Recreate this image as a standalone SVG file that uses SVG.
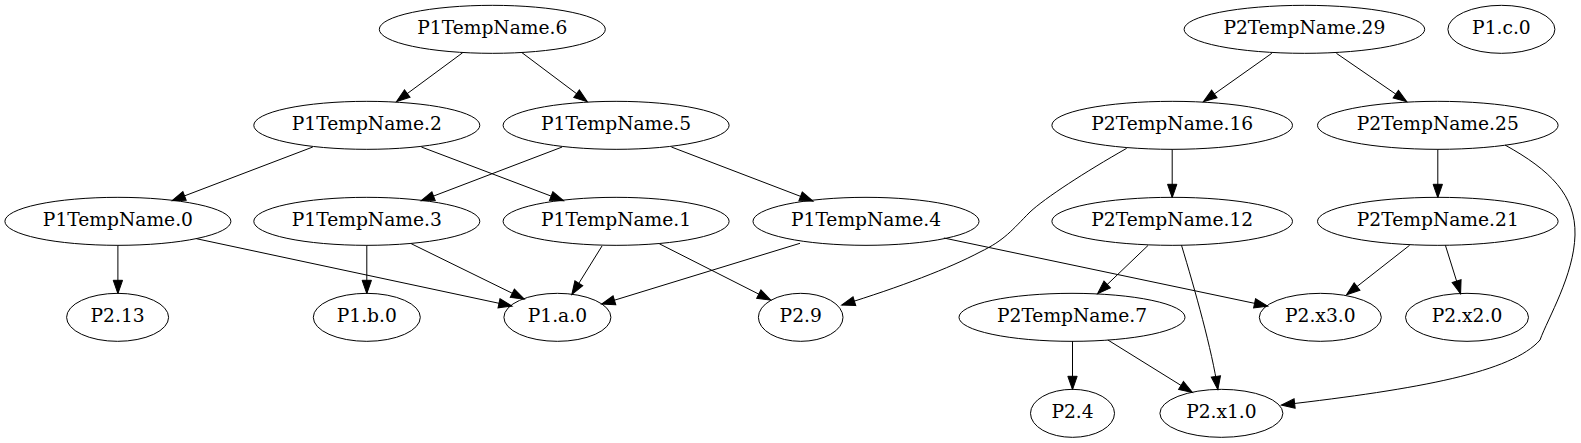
<svg xmlns="http://www.w3.org/2000/svg" width="1581" height="443" viewBox="0 0 1581 443">
<style>
.n ellipse{fill:none;stroke:#000;stroke-width:1}
.n text{font-family:"DejaVu Serif",serif;font-size:18.67px;text-anchor:middle;fill:#000}
#edges path{fill:none;stroke:#000;stroke-width:1;marker-end:url(#arr)}
</style>
<defs>
<marker id="arr" markerUnits="userSpaceOnUse" markerWidth="16" markerHeight="12" refX="13" refY="4.67" orient="auto" overflow="visible">
<path d="M0,0 L13.33,4.67 L0,9.33 Z" fill="#000" stroke="#000" stroke-width="1"/>
</marker>
</defs>
<rect width="1581" height="443" fill="#fff"/>
<g id="edges">
<path d="M462.7,52.7 L396.8,101.3"/>
<path d="M522,52.7 L587,101.5"/>
<path d="M312.8,147 L172.4,200.5"/>
<path d="M421.4,147 L563.3,200.7"/>
<path d="M562.2,147 L421.4,200.7"/>
<path d="M671.4,147 L812.7,201"/>
<path d="M117.9,245.3 L117.9,293.3"/>
<path d="M196.4,238.7 L511.7,306"/>
<path d="M366.8,245.3 L366.8,293.3"/>
<path d="M411.2,243.7 L524,299"/>
<path d="M602,246 L572,294.3"/>
<path d="M659.2,243.7 L770.4,300"/>
<path d="M800,243.3 L602,304"/>
<path d="M943.9,238 L1267.3,306"/>
<path d="M1271.8,53.3 L1203.7,101.5"/>
<path d="M1336.4,53.3 L1406.5,101.5"/>
<path d="M1172.2,149.3 L1172.2,197.3"/>
<path d="M1126.7,148.3 C1085,172 1045,198 1030,212 C1012,230 1005,240 980,252 C950,268 900,287 842,305"/>
<path d="M1437.8,149.3 L1437.8,197.3"/>
<path d="M1505,145 C1550,170 1576,195 1575,235 C1574,275 1548,318 1540,340 C1512,372 1420,389 1281.7,405"/>
<path d="M1148.2,245.3 L1097.8,293.5"/>
<path d="M1181.5,245.3 C1195,290 1212,350 1217.8,389.3"/>
<path d="M1409.6,245.3 L1346.8,294.5"/>
<path d="M1445.4,245.3 L1460.5,293.5"/>
<path d="M1072.5,341.3 L1072.5,389.3"/>
<path d="M1107.9,340 L1192.1,392.3"/>
</g>
<g id="P1TempName.6" class="n"><ellipse cx="492.3" cy="29.33" rx="113" ry="24"/><text x="492.3" y="34.4">P1TempName.6</text></g>
<g id="P1TempName.2" class="n"><ellipse cx="366.8" cy="125.33" rx="113" ry="24"/><text x="366.8" y="130.4">P1TempName.2</text></g>
<g id="P1TempName.5" class="n"><ellipse cx="616.1" cy="125.33" rx="113" ry="24"/><text x="616.1" y="130.4">P1TempName.5</text></g>
<g id="P1TempName.0" class="n"><ellipse cx="117.9" cy="221.33" rx="113" ry="24"/><text x="117.9" y="226.4">P1TempName.0</text></g>
<g id="P1TempName.3" class="n"><ellipse cx="366.8" cy="221.33" rx="113" ry="24"/><text x="366.8" y="226.4">P1TempName.3</text></g>
<g id="P1TempName.1" class="n"><ellipse cx="616.1" cy="221.33" rx="113" ry="24"/><text x="616.1" y="226.4">P1TempName.1</text></g>
<g id="P1TempName.4" class="n"><ellipse cx="866" cy="221.33" rx="113" ry="24"/><text x="866" y="226.4">P1TempName.4</text></g>
<g id="P2.13" class="n"><ellipse cx="117.6" cy="317.33" rx="51" ry="24"/><text x="117.6" y="322.4">P2.13</text></g>
<g id="P1.b.0" class="n"><ellipse cx="366.8" cy="317.33" rx="53.5" ry="24"/><text x="366.8" y="322.4">P1.b.0</text></g>
<g id="P1.a.0" class="n"><ellipse cx="557.4" cy="317.33" rx="53.5" ry="24"/><text x="557.4" y="322.4">P1.a.0</text></g>
<g id="P2.9" class="n"><ellipse cx="800.7" cy="317.33" rx="42.3" ry="24"/><text x="800.7" y="322.4">P2.9</text></g>
<g id="P2TempName.29" class="n"><ellipse cx="1304.4" cy="29.33" rx="120.3" ry="24"/><text x="1304.4" y="34.4">P2TempName.29</text></g>
<g id="P1.c.0" class="n"><ellipse cx="1501.4" cy="29.33" rx="53.5" ry="24"/><text x="1501.4" y="34.4">P1.c.0</text></g>
<g id="P2TempName.16" class="n"><ellipse cx="1172.2" cy="125.33" rx="120.3" ry="24"/><text x="1172.2" y="130.4">P2TempName.16</text></g>
<g id="P2TempName.25" class="n"><ellipse cx="1437.8" cy="125.33" rx="120.3" ry="24"/><text x="1437.8" y="130.4">P2TempName.25</text></g>
<g id="P2TempName.12" class="n"><ellipse cx="1172.2" cy="221.33" rx="120.3" ry="24"/><text x="1172.2" y="226.4">P2TempName.12</text></g>
<g id="P2TempName.21" class="n"><ellipse cx="1437.8" cy="221.33" rx="120.3" ry="24"/><text x="1437.8" y="226.4">P2TempName.21</text></g>
<g id="P2TempName.7" class="n"><ellipse cx="1072" cy="317.33" rx="113" ry="24"/><text x="1072" y="322.4">P2TempName.7</text></g>
<g id="P2.x3.0" class="n"><ellipse cx="1320.3" cy="317.33" rx="61" ry="24"/><text x="1320.3" y="322.4">P2.x3.0</text></g>
<g id="P2.x2.0" class="n"><ellipse cx="1467" cy="317.33" rx="61.5" ry="24"/><text x="1467" y="322.4">P2.x2.0</text></g>
<g id="P2.4" class="n"><ellipse cx="1072.5" cy="413.33" rx="42" ry="24"/><text x="1072.5" y="418.4">P2.4</text></g>
<g id="P2.x1.0" class="n"><ellipse cx="1221.4" cy="413.33" rx="61.5" ry="24"/><text x="1221.4" y="418.4">P2.x1.0</text></g>
</svg>
